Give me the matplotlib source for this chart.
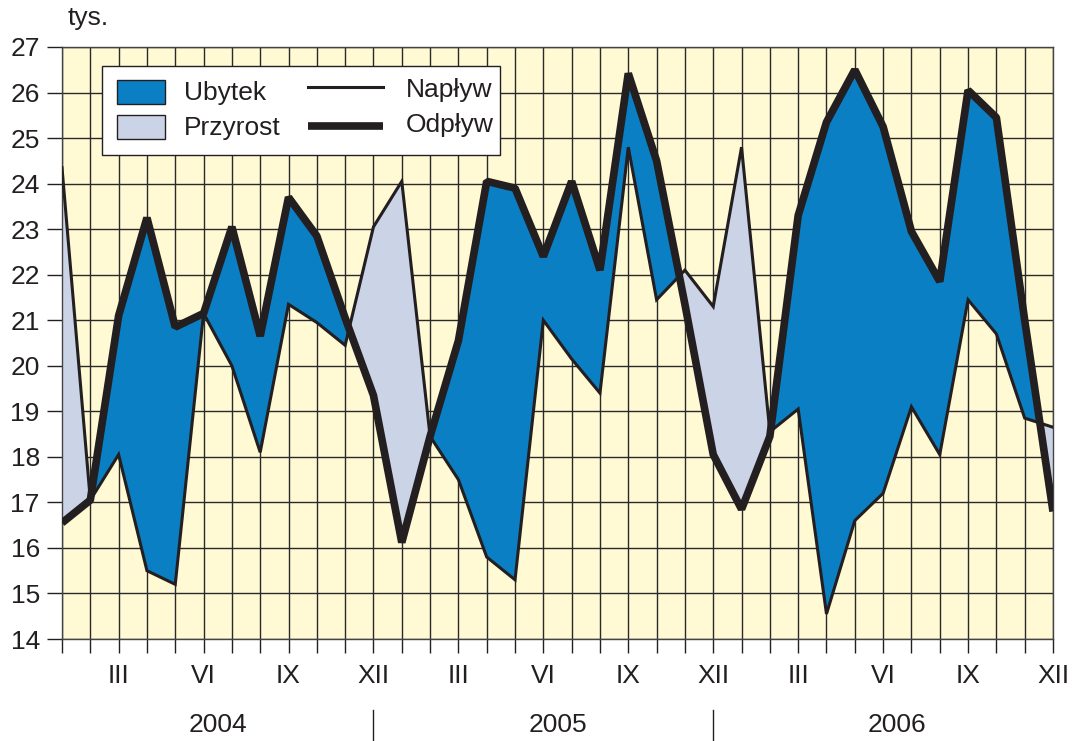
import matplotlib
matplotlib.use("Agg")
import matplotlib.pyplot as plt
from matplotlib.patches import Rectangle
from matplotlib.lines import Line2D
import numpy as np

plt.rcParams['font.family'] = ['Liberation Sans', 'DejaVu Sans']

# ---- data (thousands) ----
months = list(range(36))  # I 2004 ... XII 2006
naplyw = [24.35, 17.05, 18.05, 15.5, 15.2, 21.15, 20.0, 18.1, 21.35, 20.95, 20.45, 23.05,
          24.05, 18.45, 17.5, 15.8, 15.3, 21.0, 20.15, 19.4, 24.8, 21.45, 22.1, 21.3,
          24.8, 18.55, 19.05, 14.55, 16.6, 17.2, 19.1, 18.05, 21.45, 20.7, 18.85, 18.65]
odplyw = [16.55, 17.05, 21.1, 23.25, 20.85, 21.15, 23.05, 20.65, 23.7, 22.85, 21.05, 19.35,
          16.12, 18.45, 20.55, 24.05, 23.9, 22.4, 24.05, 22.1, 26.42, 24.5, 21.35, 18.05,
          16.85, 18.45, 23.3, 25.35, 26.5, 25.25, 22.95, 21.85, 26.05, 25.45, 21.0, 16.8]
roman = ['I', 'II', 'III', 'IV', 'V', 'VI', 'VII', 'VIII', 'IX', 'X', 'XI', 'XII']
shown_months = ['III', 'VI', 'IX', 'XII']
years = ['2004', '2005', '2006']
y_ticks = list(range(14, 28))

BLUE = '#0A7FC4'
LIGHT = '#CBD3E7'
BG = '#FFF9D4'
INK = '#231F20'

W, H = 1077, 741
fig = plt.figure(figsize=(W / 100, H / 100), dpi=100)
ax = fig.add_axes([62 / W, 1 - 639 / H, (1053 - 62) / W, (639 - 47) / H])
ax.set_facecolor(BG)

x = np.array(months, dtype=float)
n = np.array(naplyw)
o = np.array(odplyw)

ax.fill_between(x, n, o, where=o >= n, interpolate=True, color=BLUE, lw=0, zorder=2)
ax.fill_between(x, n, o, where=o <= n, interpolate=True, color=LIGHT, lw=0, zorder=2)
ax.plot(x, n, color=INK, lw=2.2, solid_joinstyle='miter', zorder=3)
ax.plot(x, o, color=INK, lw=5.5, solid_joinstyle='bevel', solid_capstyle='butt', zorder=4)

ax.set_xlim(0, 35)
ax.set_ylim(14, 27)

# grid
ax.set_yticks(y_ticks)
ax.set_xticks(months)
labels = []
for m in months:
    r = roman[m % 12]
    labels.append(r if r in shown_months else '')
ax.set_xticklabels(labels)
ax.grid(True, color='#2a2a2a', lw=1.0, zorder=1)
ax.set_axisbelow(True)
ax.tick_params(axis='y', direction='out', length=11, width=1, pad=5, labelsize=19, colors=INK)
ax.tick_params(axis='x', direction='out', length=10, width=1, pad=8, labelsize=19, colors=INK)
for s in ax.spines.values():
    s.set_color('#444444')
    s.set_linewidth(1.0)

# unit label
fig.text(68 / W, 1 - 18 / H, 'tys.', fontsize=19, color=INK, ha='left', va='center')

# year labels and separators
tr = ax.get_xaxis_transform()
for k, yr in enumerate(years):
    ax.text(12 * k + 5.5, -0.145, yr, transform=tr, ha='center', va='center', fontsize=19, color=INK)
for k in range(2):
    ax.add_line(Line2D([12 * k + 11, 12 * k + 11], [-0.12, -0.175], transform=tr,
                       color=INK, lw=1, clip_on=False))

# legend (drawn manually in pixel positions)
def fx(px):
    return px / W

def fy(py):
    return 1 - py / H

fig.add_artist(Rectangle((fx(102), fy(155)), fx(500) - fx(102), (155 - 66) / H,
                         facecolor='white', edgecolor=INK, lw=1.0, zorder=10))
fig.add_artist(Rectangle((fx(117), fy(104)), 48 / W, 24 / H,
                         facecolor=BLUE, edgecolor=INK, lw=1.0, zorder=11))
fig.add_artist(Rectangle((fx(117), fy(139)), 48 / W, 24 / H,
                         facecolor=LIGHT, edgecolor=INK, lw=1.0, zorder=11))
fig.text(fx(184), fy(93), 'Ubytek', fontsize=19, color=INK, va='center', ha='left', zorder=12)
fig.text(fx(184), fy(128), 'Przyrost', fontsize=19, color=INK, va='center', ha='left', zorder=12)
fig.add_artist(Line2D([fx(308), fx(383)], [fy(87), fy(87)], color=INK, lw=2.2, zorder=11))
fig.add_artist(Line2D([fx(308), fx(383)], [fy(125.5), fy(125.5)], color=INK, lw=5.5,
                      solid_capstyle='butt', zorder=11))
fig.text(fx(406), fy(90), 'Napływ', fontsize=19, color=INK, va='center', ha='left', zorder=12)
fig.text(fx(406), fy(125), 'Odpływ', fontsize=19, color=INK, va='center', ha='left', zorder=12)

fig.savefig('out.png', dpi=100, facecolor='white')
